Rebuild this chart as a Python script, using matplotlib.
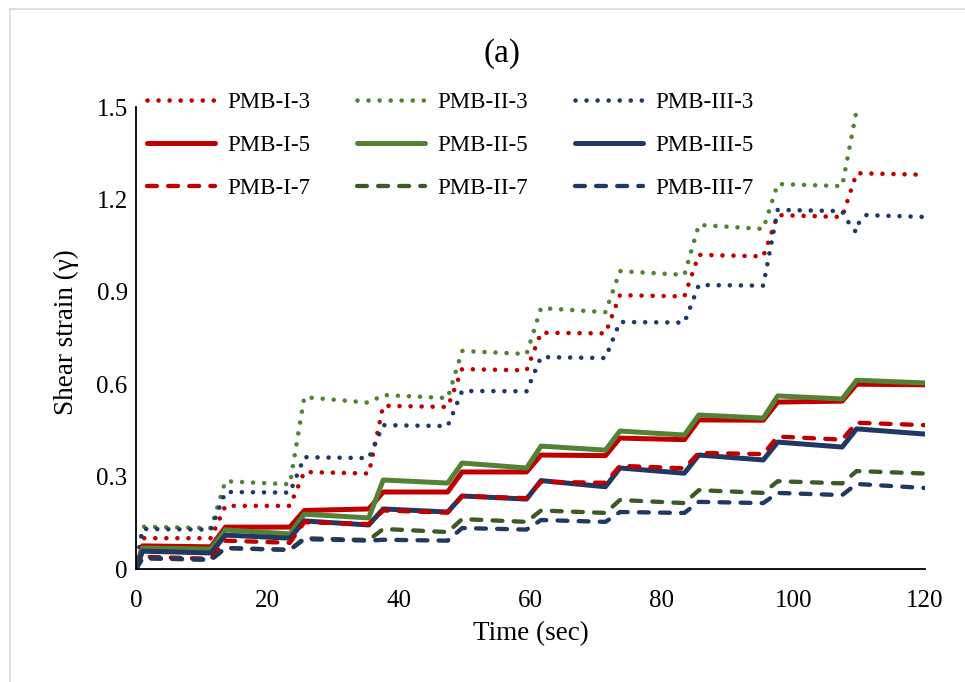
import matplotlib
matplotlib.use("Agg")
import matplotlib.pyplot as plt
from matplotlib.lines import Line2D

# ---------------- data ----------------
# Step times: start of loading (0), then for each 12-s cycle the end of the
# plateau and the top of the next rise.
time_pts = [0, 1.0, 11.4, 13.6, 23.4, 25.6, 35.4, 37.6, 47.4, 49.6, 59.4,
            61.6, 71.4, 73.6, 83.4, 85.6, 95.4, 97.6, 107.4, 109.6, 120]

pmb_i_3 = [0, 0.100, 0.100, 0.205, 0.205, 0.315, 0.310, 0.530, 0.526, 0.649, 0.645,
           0.767, 0.765, 0.889, 0.885, 1.020, 1.015, 1.149, 1.143, 1.285, 1.280]
pmb_ii_3 = [0, 0.137, 0.133, 0.285, 0.275, 0.558, 0.540, 0.565, 0.555, 0.708, 0.698,
            0.847, 0.834, 0.967, 0.955, 1.117, 1.104, 1.250, 1.243, 1.490]
pmb_iii_3_time = [0, 1.0, 11.4, 13.6, 23.4, 25.6, 35.4, 37.6, 47.4, 49.6, 59.4,
                  61.6, 71.4, 73.6, 83.4, 85.6, 95.4, 97.6, 107.4, 108.0, 109.5,
                  110.0, 111.0, 120]
pmb_iii_3 = [0, 0.130, 0.128, 0.250, 0.248, 0.363, 0.360, 0.467, 0.464, 0.578, 0.577,
             0.688, 0.685, 0.802, 0.800, 0.922, 0.920, 1.166, 1.162, 1.136, 1.094,
             1.127, 1.149, 1.143]

pmb_i_5 = [0, 0.075, 0.072, 0.136, 0.136, 0.190, 0.195, 0.250, 0.250, 0.315, 0.315,
           0.370, 0.368, 0.425, 0.420, 0.484, 0.483, 0.542, 0.545, 0.600, 0.598]
pmb_ii_5 = [0, 0.068, 0.065, 0.127, 0.114, 0.178, 0.166, 0.289, 0.279, 0.344, 0.328,
            0.399, 0.386, 0.448, 0.435, 0.500, 0.490, 0.562, 0.552, 0.613, 0.604]
pmb_iii_5 = [0, 0.058, 0.052, 0.110, 0.100, 0.156, 0.143, 0.195, 0.185, 0.237, 0.227,
             0.287, 0.267, 0.328, 0.311, 0.370, 0.354, 0.412, 0.396, 0.455, 0.438]

pmb_i_7 = [0, 0.040, 0.033, 0.092, 0.085, 0.152, 0.146, 0.190, 0.183, 0.237, 0.230,
           0.283, 0.280, 0.335, 0.327, 0.377, 0.373, 0.430, 0.420, 0.475, 0.467]
pmb_ii_7 = [0, 0.035, 0.030, 0.068, 0.062, 0.100, 0.094, 0.130, 0.120, 0.162, 0.153,
            0.190, 0.182, 0.224, 0.214, 0.256, 0.247, 0.285, 0.278, 0.318, 0.310]
pmb_iii_7 = [0, 0.035, 0.030, 0.068, 0.062, 0.097, 0.092, 0.095, 0.092, 0.133, 0.128,
             0.159, 0.153, 0.185, 0.182, 0.218, 0.214, 0.247, 0.240, 0.276, 0.263]

series_names = ["PMB-I-3", "PMB-II-3", "PMB-III-3",
                "PMB-I-5", "PMB-II-5", "PMB-III-5",
                "PMB-I-7", "PMB-II-7", "PMB-III-7"]
x_ticks = [0, 20, 40, 60, 80, 100, 120]
y_ticks = [0, 0.3, 0.6, 0.9, 1.2, 1.5]
y_tick_labels = ["0", "0.3", "0.6", "0.9", "1.2", "1.5"]

# ---------------- styling ----------------
RED = "#C00000"
GREEN = "#548235"
DGREEN = "#3B5A26"
BLUE = "#203864"

plt.rcParams["font.family"] = ["Liberation Serif", "DejaVu Serif"]

fig = plt.figure(figsize=(9.65, 6.82), dpi=100)
W, H = 965, 682
ax_l, ax_r, ax_b, ax_t = 136, 925, 569, 107
ax = fig.add_axes([ax_l / W, 1 - ax_b / H, (ax_r - ax_l) / W, (ax_b - ax_t) / H])

dot = dict(linestyle=(0, (0.01, 2.4)), lw=3.3, dash_capstyle="round")
solid = dict(linestyle="-", lw=3.6, solid_capstyle="round", solid_joinstyle="round")
dash = dict(linestyle=(0, (2.3, 2.6)), lw=3.1, dash_capstyle="round",
            dash_joinstyle="round")

specs = [
    (time_pts, pmb_i_3, RED, dot),
    (time_pts[:len(pmb_ii_3)], pmb_ii_3, GREEN, dot),
    (pmb_iii_3_time, pmb_iii_3, BLUE, dot),
    (time_pts, pmb_i_5, RED, solid),
    (time_pts, pmb_ii_5, GREEN, solid),
    (time_pts, pmb_iii_5, BLUE, solid),
    (time_pts, pmb_i_7, RED, dash),
    (time_pts, pmb_ii_7, DGREEN, dash),
    (time_pts, pmb_iii_7, BLUE, dash),
]
handles = []
for (t, v, c, st), name in zip(specs, series_names):
    (h,) = ax.plot(t, v, color=c, label=name, **st)
    handles.append(h)

ax.set_xlim(0, 120)
ax.set_ylim(0, 1.5)
ax.set_xticks(x_ticks)
ax.set_yticks(y_ticks)
ax.set_yticklabels(y_tick_labels)
ax.tick_params(axis="both", length=0, labelsize=18, colors="black")
ax.tick_params(axis="x", pad=15)
ax.tick_params(axis="y", pad=6)
for s in ["top", "right"]:
    ax.spines[s].set_visible(False)
for s in ["left", "bottom"]:
    ax.spines[s].set_color("black")
    ax.spines[s].set_linewidth(1.3)

ax.set_xlabel("Time (sec)", fontsize=19.5)
ax.set_ylabel("Shear strain (\u03b3)", fontsize=19.5)
ax.xaxis.set_label_coords(0.5, (569 - 634) / 462, transform=ax.transAxes)
ax.yaxis.set_label_coords((66 - 136) / 789, (569 - 332) / 462, transform=ax.transAxes)
ax.xaxis.label.set_va("center")
ax.yaxis.label.set_va("center")

# legend (row-wise like the source, matplotlib fills column-wise)
order = [0, 3, 6, 1, 4, 7, 2, 5, 8]
fig.legend([handles[i] for i in order], [series_names[i] for i in order],
           ncol=3, loc="upper left", bbox_to_anchor=(147 / W, 1 - 92 / H),
           bbox_transform=fig.transFigure, frameon=False, fontsize=16.5,
           handlelength=2.95, handletextpad=0.55, columnspacing=2.05,
           labelspacing=0.95, borderpad=0, borderaxespad=0)

fig.text(502 / W, 1 - 54 / H, "(a)", ha="center", va="center", fontsize=24)

# light grey outer frame (top and left edges visible)
fig.add_artist(Line2D([9.5 / W, 9.5 / W], [0, 1 - 8.5 / H], transform=fig.transFigure,
                      color="#D9D9D9", lw=1.2))
fig.add_artist(Line2D([9.5 / W, 1], [1 - 8.5 / H, 1 - 8.5 / H], transform=fig.transFigure,
                      color="#D9D9D9", lw=1.2))

fig.savefig("out.png", dpi=100)
